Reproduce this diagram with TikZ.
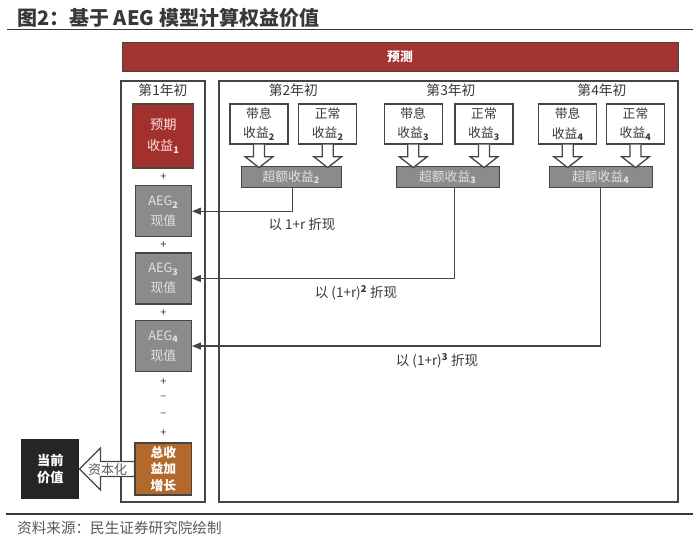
\documentclass[tikz,border=0pt]{standalone}
\usepackage{fontspec}
\setmainfont{Noto Sans CJK SC}
\usetikzlibrary{arrows.meta,calc}
\definecolor{redbar}{HTML}{A33430}
\definecolor{redbox}{HTML}{A2302D}
\definecolor{brownbox}{HTML}{B3692C}
\definecolor{graybox}{HTML}{8B8B8B}
\definecolor{darkbox}{HTML}{252525}
\definecolor{linegray}{HTML}{454545}
\definecolor{txt}{HTML}{383838}
\definecolor{srctxt}{HTML}{595959}
\definecolor{paletxt}{HTML}{E2E2E2}
\newcommand{\hdown}[1]{%
  \draw[hollow] ($(#1.south)+(-5.5,0)$) -- ($(#1.south)+(-5.5,12)$) -- ($(#1.south)+(-14,12)$)
    -- ($(#1.south)+(0,23)$) -- ($(#1.south)+(14,12)$) -- ($(#1.south)+(5.5,12)$) -- ($(#1.south)+(5.5,0)$);}
\begin{document}
\begin{tikzpicture}[x=1pt,y=-1pt,
  frame/.style={draw=linegray, line width=1.4pt},
  box/.style={draw=linegray, line width=1.3pt, inner sep=0pt, align=center,
    font=\fontsize{12.8}{19.5}\selectfont},
  whitebox/.style={box, fill=white, text=txt, minimum width=58pt, minimum height=40pt},
  excess/.style={box, fill=graybox, text=paletxt, minimum height=21pt},
  aeg/.style={box, fill=graybox, text=paletxt, minimum width=56pt, minimum height=51pt},
  hollow/.style={draw=linegray, line width=1.3pt, fill=white, line join=miter},
  conn/.style={draw=linegray, line width=1.3pt, -{Triangle[length=9pt,width=7pt]}},
  lbl/.style={text=txt, font=\fontsize{13.5}{15}\selectfont},
  year/.style={text=txt, font=\fontsize{13.8}{14}\selectfont},
  sign/.style={text=txt, font=\fontsize{11}{12}\selectfont, inner sep=0pt}]
\useasboundingbox (0,0) rectangle (700,541);

% title and rules
\node[anchor=west, text=txt, font=\fontsize{20}{20}\selectfont\bfseries, inner sep=0pt] (title) at (17,17.5) {图2：基于 AEG 模型计算权益价值};
\draw[line width=1.2pt, txt] (7,29.5) -- (693,29.5);
\draw[line width=1.2pt, txt] (6,514) -- (693,514);
\node[anchor=west, text=srctxt, font=\fontsize{14.6}{15}\selectfont, inner sep=0pt] (src) at (17,528) {资料来源：民生证券研究院绘制};

% forecast bar
\node[fill=redbar, draw=linegray, line width=1pt, minimum width=556pt, minimum height=29pt, inner sep=0pt,
  text=white, font=\fontsize{12.8}{13}\selectfont\bfseries] (bar) at (400,57.2) {预测};

% frames
\draw[frame] (121,81) rectangle (205,502);
\draw[frame] (219,81) rectangle (678,502);

% left column
\node[year] (y1) at (163,90) {第1年初};
\node[box, fill=redbox, text=white!88!red, minimum width=61pt, minimum height=64pt,
  font=\fontsize{13.2}{21}\selectfont] (r1) at (163.3,136) {预期\\收益$_{\mathbf{1}}$};
\node[sign] (p1) at (163.3,177) {+};
\node[aeg] (aeg2) at (163.3,211.2) {AEG$_{\mathbf{2}}$\\现值};
\node[sign] (p2) at (163.3,245) {+};
\node[aeg] (aeg3) at (163.3,278.5) {AEG$_{\mathbf{3}}$\\现值};
\node[sign] (p3) at (163.3,312.7) {+};
\node[aeg] (aeg4) at (163.3,346) {AEG$_{\mathbf{4}}$\\现值};
\node[sign] (p4) at (163.3,382) {+};
\node[sign] (m1) at (163.3,398) {–};
\node[sign] (m2) at (163.3,415) {–};
\node[sign] (p5) at (163.3,432.7) {+};
\node[box, fill=brownbox, text=white, minimum width=56.5pt, minimum height=52pt,
  font=\fontsize{12.8}{16.5}\selectfont\bfseries] (tot) at (163.3,469) {总收\\益加\\增长};
\node[box, draw=darkbox, fill=darkbox, text=white, minimum width=57pt, minimum height=58pt,
  font=\fontsize{13.2}{17}\selectfont\bfseries] (cur) at (50.3,469) {当前\\价值};

% capitalisation arrow
\draw[hollow] (cur.east) -- ($(cur.east)+(21,-21)$) -- ($(cur.east)+(21,-7.5)$) -- ($(tot.west)+(0,-7.5)$)
  -- ($(tot.west)+(0,7.5)$) -- ($(cur.east)+(21,7.5)$) -- ($(cur.east)+(21,21)$) -- cycle;
\node[text=srctxt, font=\fontsize{13}{13}\selectfont, inner sep=0pt] (cap) at (107.5,470) {资本化};

% right panel
\node[year] (y2) at (293.3,90) {第2年初};
\node[year] (y3) at (451,90) {第3年初};
\node[year] (y4) at (602,90) {第4年初};

\node[whitebox] (dx2) at (259,124) {带息\\收益$_{\mathbf{2}}$};
\node[whitebox] (zc2) at (327.7,124) {正常\\收益$_{\mathbf{2}}$};
\node[whitebox] (dx3) at (413.2,124) {带息\\收益$_{\mathbf{3}}$};
\node[whitebox] (zc3) at (484,124) {正常\\收益$_{\mathbf{3}}$};
\node[whitebox] (dx4) at (567.7,124) {带息\\收益$_{\mathbf{4}}$};
\node[whitebox] (zc4) at (635.5,124) {正常\\收益$_{\mathbf{4}}$};

\node[excess, minimum width=100pt] (ce2) at (291.2,177.3) {超额收益$_{\mathbf{2}}$};
\node[excess, minimum width=103pt] (ce3) at (447.7,177.3) {超额收益$_{\mathbf{3}}$};
\node[excess, minimum width=103pt] (ce4) at (600.7,177.3) {超额收益$_{\mathbf{4}}$};

\hdown{dx2}\hdown{zc2}\hdown{dx3}\hdown{zc3}\hdown{dx4}\hdown{zc4}

% discount connectors
\draw[conn] ($(ce2.south)+(1.5,0)$) |- (aeg2.east);
\draw[conn] ($(ce3.south)+(6.5,0)$) |- (aeg3.east);
\draw[conn] (ce4.south) |- (aeg4.east);

\node[lbl] (l2) at (302,224) {以 1+r 折现};
\node[lbl] (l3) at (356,293) {以 (1+r)\textsuperscript{\textbf{2}} 折现};
\node[lbl] (l4) at (437,361) {以 (1+r)\textsuperscript{\textbf{3}} 折现};
\end{tikzpicture}
\end{document}
